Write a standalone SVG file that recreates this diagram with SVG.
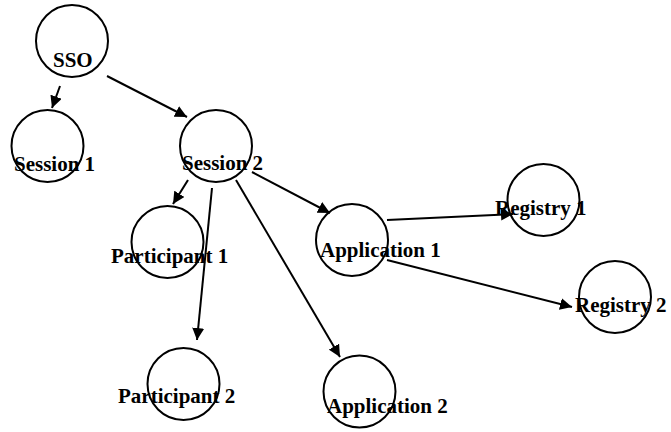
<svg xmlns="http://www.w3.org/2000/svg" width="671" height="432" viewBox="0 0 671 432">
  <style>
    .node circle { fill: none; stroke: #000; stroke-width: 2; }
    .node text { font-family: "Liberation Serif", "Times New Roman", serif; font-size: 21px; font-weight: bold; fill: #000; }
    #edges line { stroke: #000; stroke-width: 2; marker-end: url(#arrow); }
  </style>
  <defs>
    <marker id="arrow" markerUnits="userSpaceOnUse" markerWidth="14" markerHeight="12" refX="12" refY="6" orient="auto">
      <path d="M0,0 L12,6 L0,12 Z" fill="#000"/>
    </marker>
  </defs>
  <rect width="671" height="432" fill="#fff"/>

  <g id="edges">
    <line x1="60" y1="86" x2="52" y2="108"/>
    <line x1="107" y1="76" x2="187" y2="117"/>
    <line x1="188" y1="180" x2="173" y2="204"/>
    <line x1="212" y1="188" x2="197" y2="340"/>
    <line x1="236" y1="180" x2="340" y2="357"/>
    <line x1="252" y1="172" x2="330" y2="213"/>
    <line x1="387" y1="220" x2="513" y2="214"/>
    <line x1="387" y1="260" x2="572" y2="307"/>
  </g>

  <g id="sso" class="node">
    <circle cx="72" cy="41" r="36"/>
    <text x="53" y="67">SSO</text>
  </g>
  <g id="session1" class="node">
    <circle cx="47.5" cy="146" r="36"/>
    <text x="14" y="171">Session 1</text>
  </g>
  <g id="session2" class="node">
    <circle cx="216" cy="146" r="36"/>
    <text x="182" y="170">Session 2</text>
  </g>
  <g id="participant1" class="node">
    <circle cx="167.5" cy="242" r="36"/>
    <text x="111" y="263">Participant 1</text>
  </g>
  <g id="participant2" class="node">
    <circle cx="183.5" cy="384" r="36"/>
    <text x="118" y="403">Participant 2</text>
  </g>
  <g id="application1" class="node">
    <circle cx="352" cy="240" r="36"/>
    <text x="320" y="257">Application 1</text>
  </g>
  <g id="application2" class="node">
    <circle cx="359.5" cy="391.5" r="36"/>
    <text x="327" y="413">Application 2</text>
  </g>
  <g id="registry1" class="node">
    <circle cx="543.5" cy="200" r="36"/>
    <text x="495" y="215">Registry 1</text>
  </g>
  <g id="registry2" class="node">
    <circle cx="615" cy="297" r="36"/>
    <text x="575" y="312">Registry 2</text>
  </g>
</svg>
